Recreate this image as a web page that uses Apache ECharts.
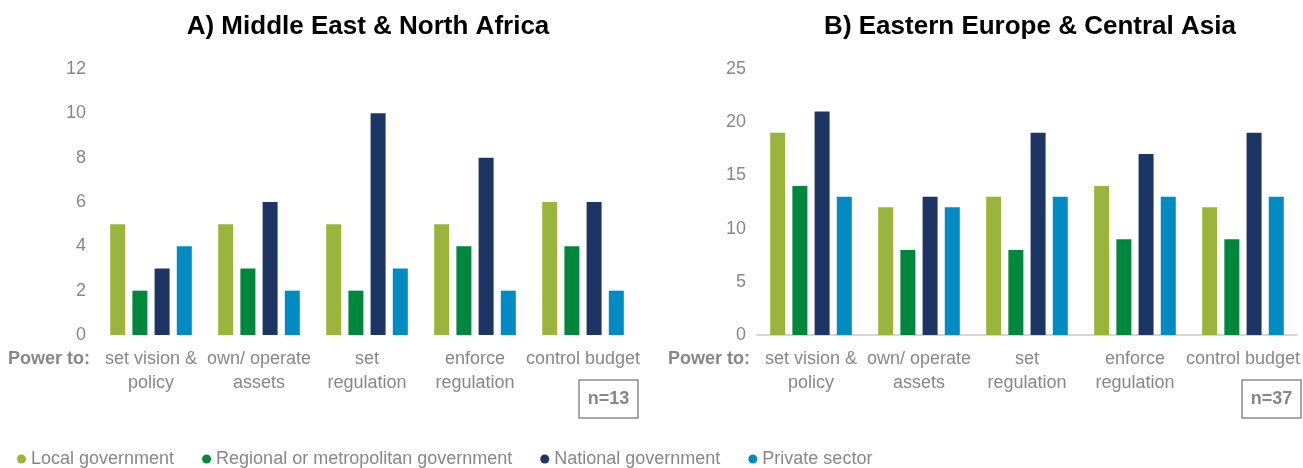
<!DOCTYPE html>
<html>
<head>
<meta charset="utf-8">
<title>Power to govern by level</title>
<script src="https://cdn.jsdelivr.net/npm/echarts@6/dist/echarts.min.js"></script>
<style>
  html, body { margin: 0; padding: 0; background: #ffffff; }
  #chart { width: 1303px; height: 468px; }
</style>
</head>
<body>
<div id="chart"></div>
<script>
// Categories shared by both panels
const categories = ['set vision &\npolicy', 'own/ operate\nassets', 'set\nregulation', 'enforce\nregulation', 'control budget'];
const seriesNames = ['Local government', 'Regional or metropolitan government', 'National government', 'Private sector'];
const seriesColors = ['#9bb53c', '#00873e', '#1c3564', '#008bc2'];

// Panel A: Middle East & North Africa (n=13)
const menaLocal = [5, 5, 5, 5, 6];
const menaRegional = [2, 3, 2, 4, 4];
const menaNational = [3, 6, 10, 8, 6];
const menaPrivate = [4, 2, 3, 2, 2];

// Panel B: Eastern Europe & Central Asia (n=37)
const ecaLocal = [19, 12, 13, 14, 12];
const ecaRegional = [14, 8, 8, 9, 9];
const ecaNational = [21, 13, 19, 17, 19];
const ecaPrivate = [13, 12, 13, 13, 13];

const menaTicks = { min: 0, max: 12, interval: 2 };
const ecaTicks = { min: 0, max: 25, interval: 5 };

const panelTitles = ['A) Middle East & North Africa', 'B) Eastern Europe & Central Asia'];
const sampleSizes = ['n=13', 'n=37'];

const GRAY = '#878787';
const FONT = '"Liberation Sans", Arial, Helvetica, sans-serif';

const grids = [
  { left: 97, width: 540, top: 69, height: 266 },
  { left: 757, width: 540, top: 69, height: 266 }
];

function xAxisFor(idx, showLine) {
  return {
    type: 'category',
    gridIndex: idx,
    data: categories,
    axisTick: { show: false },
    axisLine: { show: showLine, lineStyle: { color: '#d6d6d6', width: 2 } },
    axisLabel: {
      interval: 0,
      margin: 12,
      color: GRAY,
      fontFamily: FONT,
      fontSize: 18,
      lineHeight: 24
    }
  };
}

function yAxisFor(idx, ticks) {
  return {
    type: 'value',
    gridIndex: idx,
    min: ticks.min,
    max: ticks.max,
    interval: ticks.interval,
    splitLine: { show: false },
    axisLine: { show: false },
    axisTick: { show: false },
    axisLabel: { color: GRAY, fontFamily: FONT, fontSize: 18, margin: 11 }
  };
}

function barSeries(name, color, data, idx) {
  return {
    type: 'bar',
    name: name,
    xAxisIndex: idx,
    yAxisIndex: idx,
    data: data,
    barWidth: 15,
    barGap: '48%',
    itemStyle: { color: color },
    emphasis: { disabled: true }
  };
}

const menaData = [menaLocal, menaRegional, menaNational, menaPrivate];
const ecaData = [ecaLocal, ecaRegional, ecaNational, ecaPrivate];

const series = [];
seriesNames.forEach((n, i) => series.push(barSeries(n, seriesColors[i], menaData[i], 0)));
seriesNames.forEach((n, i) => series.push(barSeries(n, seriesColors[i], ecaData[i], 1)));

function panelTitle(text, cx) {
  return {
    type: 'text',
    x: cx,
    y: 27,
    style: {
      text: text,
      fill: '#000000',
      font: 'bold 26px ' + FONT,
      textAlign: 'center',
      textVerticalAlign: 'middle'
    }
  };
}

function powerLabel(rightX) {
  return {
    type: 'text',
    x: rightX,
    y: 359,
    style: {
      text: 'Power to:',
      fill: GRAY,
      font: 'bold 18px ' + FONT,
      textAlign: 'right',
      textVerticalAlign: 'middle'
    }
  };
}

function sampleBox(x, label) {
  return {
    type: 'group',
    children: [
      {
        type: 'rect',
        shape: { x: x, y: 380, width: 59, height: 38 },
        style: { fill: 'none', stroke: '#8a8a8a', lineWidth: 1.5 }
      },
      {
        type: 'text',
        x: x + 29.5,
        y: 399,
        style: {
          text: label,
          fill: GRAY,
          font: 'bold 18px ' + FONT,
          textAlign: 'center',
          textVerticalAlign: 'middle'
        }
      }
    ]
  };
}

const chart = echarts.init(document.getElementById('chart'), null, { renderer: 'canvas' });
chart.setOption({
  animation: false,
  backgroundColor: '#ffffff',
  grid: grids,
  xAxis: [xAxisFor(0, false), xAxisFor(1, true)],
  yAxis: [yAxisFor(0, menaTicks), yAxisFor(1, ecaTicks)],
  legend: {
    data: seriesNames,
    left: 12,
    top: 445,
    icon: 'circle',
    itemWidth: 9,
    itemHeight: 9,
    itemGap: 28,
    textStyle: { color: GRAY, fontFamily: FONT, fontSize: 18 },
    selectedMode: false
  },
  series: series,
  graphic: [
    panelTitle(panelTitles[0], 368),
    panelTitle(panelTitles[1], 1030),
    powerLabel(90),
    powerLabel(750),
    sampleBox(579, sampleSizes[0]),
    sampleBox(1242, sampleSizes[1])
  ]
});
</script>
</body>
</html>
